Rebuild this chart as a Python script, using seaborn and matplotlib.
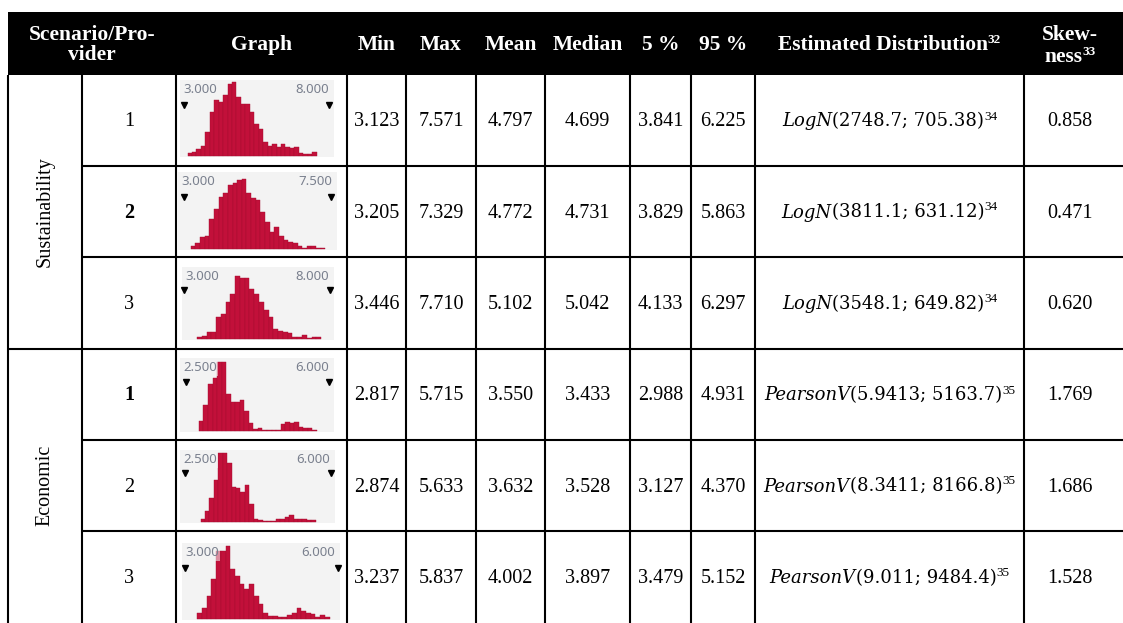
import numpy as np
import pandas as pd
import seaborn as sns
import matplotlib
matplotlib.use("Agg")
import matplotlib.pyplot as plt
from matplotlib.patches import Rectangle
from matplotlib.transforms import blended_transform_factory

# ---- table content ----
groups = ["Sustainability", "Economic"]
providers = ["1", "2", "3", "1", "2", "3"]
bold_provider = [False, True, False, True, False, False]
col_min = [3.123, 3.205, 3.446, 2.817, 2.874, 3.237]
col_max = [7.571, 7.329, 7.710, 5.715, 5.633, 5.837]
col_mean = [4.797, 4.772, 5.102, 3.550, 3.632, 4.002]
col_median = [4.699, 4.731, 5.042, 3.433, 3.528, 3.897]
col_p5 = [3.841, 3.829, 4.133, 2.988, 3.127, 3.479]
col_p95 = [6.225, 5.863, 6.297, 4.931, 4.370, 5.152]
dist_name = ["LogN", "LogN", "LogN", "PearsonV", "PearsonV", "PearsonV"]
dist_params = ["(2748.7; 705.38)", "(3811.1; 631.12)", "(3548.1; 649.82)",
               "(5.9413; 5163.7)", "(8.3411; 8166.8)", "(9.011; 9484.4)"]
dist_note = ["34", "34", "34", "35", "35", "35"]
skewness = [0.858, 0.471, 0.620, 1.769, 1.686, 1.528]

# graph delimiters shown above each histogram
graph_lo = [3.0, 3.0, 3.0, 2.5, 2.5, 3.0]
graph_hi = [8.0, 7.5, 8.0, 6.0, 6.0, 6.0]

# simulated-output histogram bar heights (relative frequency units)
hist_s1 = [8, 12, 20, 30, 70, 130, 165, 160, 180, 215, 220, 175, 155, 155, 130,
           95, 80, 40, 30, 35, 25, 35, 25, 22, 27, 8, 5, 5, 12]
hist_s2 = [8, 18, 33, 36, 88, 118, 153, 163, 188, 193, 203, 206, 163, 148, 143,
           108, 78, 48, 63, 38, 26, 20, 16, 8, 3, 8, 8, 3, 3]
hist_s3 = [4, 10, 22, 22, 70, 77, 117, 142, 197, 192, 192, 157, 142, 117, 92,
           67, 30, 24, 20, 17, 7, 7, 12, 2, 7, 7]
hist_e1 = [30, 80, 145, 165, 215, 215, 115, 90, 90, 95, 60, 25, 5, 8, 3, 3, 3,
           3, 20, 27, 23, 28, 13, 8, 8, 3]
hist_e2 = [8, 35, 75, 130, 215, 215, 185, 110, 105, 95, 115, 55, 10, 5, 2, 2, 2,
           8, 10, 15, 20, 10, 8, 8, 4, 7]
hist_e3 = [18, 33, 68, 118, 203, 203, 218, 148, 128, 103, 90, 103, 68, 43, 18,
           8, 8, 4, 4, 10, 18, 33, 23, 18, 13, 6, 10, 6]
hists = [hist_s1, hist_s2, hist_s3, hist_e1, hist_e2, hist_e3]

headers = ["Scenario/Pro-\nvider", "Graph", "Min", "Max", "Mean", "Median",
           "5 %", "95 %"]

# ---- layout (pixel coordinates, y downward) ----
W, H = 1123, 623
cols = [8, 82, 176, 347, 406, 476, 545, 630, 691, 755, 1024]
skew_center = 1070
header_top, header_bot = 12, 75
row_lines = [75, 166, 257, 349, 440, 531, 623]
row_centers = [(a + b) / 2 for a, b in zip(row_lines[:-1], row_lines[1:])]
row_centers[-1] = 577
hist_boxes = [(180, 80, 334, 157), (178, 172, 337, 250), (182, 267, 334, 340),
              (180, 358, 334, 432), (180, 450, 335, 523), (182, 543, 340, 620)]
# pixel positions of the two delimiter markers in each thumbnail
marker_px = [(184, 329), (184, 331), (184, 329.5), (186, 328.5), (185, 331), (185, 338)]

SERIF = "Liberation Serif"
BODY_FS = 14.5
HEAD_FS = 15.5
BAR = "#c2103a"
EDGE = "#a50c2e"
LW = 1.5

sns.set_style("white")
plt.rcParams["font.family"] = ["Liberation Serif", "DejaVu Sans"]

fig = plt.figure(figsize=(W / 100, H / 100), dpi=100)
ax = fig.add_axes([0, 0, 1, 1])
ax.set_xlim(0, W)
ax.set_ylim(H, 0)
ax.set_axis_off()
renderer = fig.canvas.get_renderer()


def draw_runs(xc, ybase, parts):
    """Draw consecutive text runs, centred as one line at xc."""
    objs = []
    for s, props, dy in parts:
        objs.append(ax.text(0, ybase - dy, s, ha="left", va="baseline", **props))
    widths = [t.get_window_extent(renderer).width for t in objs]
    x = xc - sum(widths) / 2
    for t, w in zip(objs, widths):
        t.set_x(x)
        x += w


# header band
ax.add_patch(Rectangle((cols[0], header_top), W - cols[0], header_bot - header_top,
                       facecolor="black", edgecolor="none"))
hdr = dict(color="white", fontweight="bold", fontsize=HEAD_FS, family=SERIF)
centers_hdr = [(cols[0] + cols[2]) / 2] + [(cols[i] + cols[i + 1]) / 2 for i in range(2, 9)]
for txt, xc in zip(headers, centers_hdr):
    ax.text(xc, 45, txt, ha="center", va="center", linespacing=1.0, **hdr)
sup_hdr = dict(color="white", fontweight="bold", fontsize=9.5, family=SERIF)
draw_runs((cols[9] + cols[10]) / 2, 50, [("Estimated Distribution", hdr, 0), ("32", sup_hdr, 7)])
ax.text(skew_center, 35, "Skew-", ha="center", va="center", **hdr)
draw_runs(skew_center, 62, [("ness", hdr, 0), ("33", sup_hdr, 7)])

# grid lines
for x in cols:
    ax.plot([x, x], [header_bot, H], color="black", lw=LW, solid_capstyle="butt")
for y in row_lines[1:-1]:
    x_start = cols[0] if y == row_lines[3] else cols[1]
    ax.plot([x_start, W], [y, y], color="black", lw=LW, solid_capstyle="butt")

# group labels
body = dict(fontsize=BODY_FS, family=SERIF, color="black")
ax.text((cols[0] + cols[1]) / 2, (row_lines[0] + row_lines[3]) / 2, groups[0],
        rotation=90, ha="center", va="center", **body)
ax.text((cols[0] + cols[1]) / 2, (row_lines[3] + H) / 2 - 1, groups[1],
        rotation=90, ha="center", va="center", **body)

# body cells
ital = dict(fontsize=13, family="DejaVu Serif", style="italic", color="black")
upr = dict(fontsize=13, family="DejaVu Serif", color="black")
sup = dict(fontsize=9.5, family=SERIF, color="black")
for i, yc in enumerate(row_centers):
    yb = yc + 6
    ax.text((cols[1] + cols[2]) / 2, yb, providers[i], ha="center", va="baseline",
            fontweight="bold" if bold_provider[i] else "normal", **body)
    values = [col_min[i], col_max[i], col_mean[i], col_median[i], col_p5[i], col_p95[i]]
    for j, v in enumerate(values):
        ax.text((cols[3 + j] + cols[4 + j]) / 2, yb, f"{v:.3f}", ha="center",
                va="baseline", **body)
    draw_runs((cols[9] + cols[10]) / 2, yb,
              [(dist_name[i], ital, 0), (dist_params[i], upr, 0), (dist_note[i], sup, 7)])
    ax.text(skew_center, yb, f"{skewness[i]:.3f}", ha="center", va="baseline", **body)

# histogram thumbnails
for i, h in enumerate(hists):
    x0, y0, x1, y1 = hist_boxes[i]
    m0, m1 = marker_px[i]
    hax = fig.add_axes([x0 / W, 1 - y1 / H, (x1 - x0) / W, (y1 - y0) / H])
    hax.set_facecolor("#f3f3f3")
    lo, hi = graph_lo[i], graph_hi[i]
    scale = (m1 - m0) / (hi - lo)
    width = (col_max[i] - col_min[i]) / len(h)
    frame = pd.DataFrame({
        "value": col_min[i] + width * (np.arange(len(h)) + 0.5),
        "freq": h,
    })
    sns.histplot(data=frame, x="value", weights="freq", bins=len(h),
                 binrange=(col_min[i], col_max[i]), ax=hax, color=BAR,
                 edgecolor=EDGE, linewidth=0.3, alpha=1.0)
    hax.set_xlim(lo - (m0 - x0) / scale, hi + (x1 - m1) / scale)
    hax.set_ylim(-4, 226)
    hax.set_xticks([])
    hax.set_yticks([])
    hax.set_xlabel("")
    hax.set_ylabel("")
    for s in hax.spines.values():
        s.set_visible(False)
    tr = blended_transform_factory(hax.transData, hax.transAxes)
    hax.plot([lo, hi], [0.68, 0.68], transform=tr, marker="v", ls="none",
             color="black", ms=5, zorder=5, clip_on=False)
    lab = dict(fontsize=9.5, family="Noto Sans", color="#7a808e",
               xycoords="axes fraction", textcoords="offset points",
               va="top", zorder=6,
               bbox=dict(facecolor="#f3f3f3", alpha=0.55, edgecolor="none", pad=1.0))
    hax.annotate(f"{lo:.3f}", xy=(0, 1), xytext=(2.2, -2.5), ha="left", **lab)
    hax.annotate(f"{hi:.3f}", xy=(1, 1), xytext=(-3.6, -2.5), ha="right", **lab)

fig.savefig("out.png", dpi=100)
